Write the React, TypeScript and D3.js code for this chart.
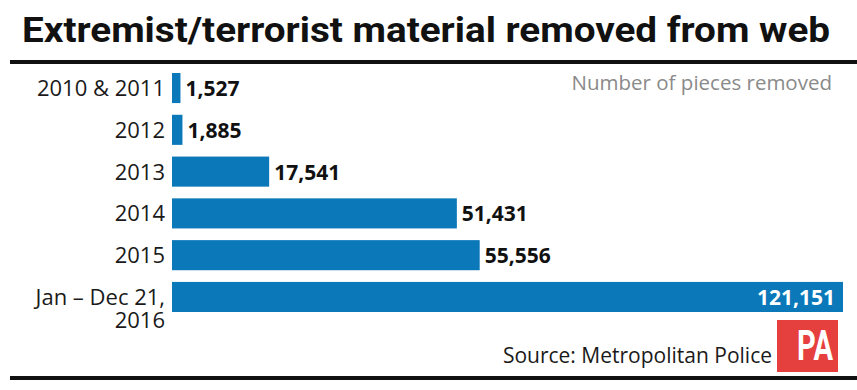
import React from "react";
import * as d3 from "d3";

const categories: string[][] = [
  ["2010 & 2011"],
  ["2012"],
  ["2013"],
  ["2014"],
  ["2015"],
  ["Jan – Dec 21,", "2016"],
];
const values: number[] = [1527, 1885, 17541, 51431, 55556, 121151];

const title = "Extremist/terrorist material removed from web";
const subtitle = "Number of pieces removed";
const source = "Source: Metropolitan Police";

const W = 857;
const H = 390;
const BLUE = "#0a78b9";
const FONT = "'Open Sans', 'Noto Sans', sans-serif";

export default function App() {
  const keys = categories.map((c) => c.join(" "));
  const maxV = d3.max(values) as number;
  const x = d3.scaleLinear().domain([0, maxV]).range([172, 843]);
  const y = d3.scaleBand<string>().domain(keys).range([73, 312]).paddingInner(0.28).paddingOuter(0);
  const fmt = d3.format(",");

  return (
    <svg
      width={W}
      height={H}
      style={{ position: "absolute", left: 0, top: 0, background: "#fff" }}
      xmlns="http://www.w3.org/2000/svg"
    >
      <rect x={0} y={0} width={W} height={H} fill="#fff" />
      <text
        x={22}
        y={42}
        fontFamily="Roboto, 'Open Sans', sans-serif"
        fontWeight={700}
        fontSize={35}
        fill="#111"
        textLength={808}
        lengthAdjust="spacingAndGlyphs"
      >
        {title}
      </text>
      <rect x={10} y={60} width={W - 10} height={4} fill="#111" />
      <text x={832} y={90} textAnchor="end" fontFamily={FONT} fontSize={20.5} fill="#8a8a8a">
        {subtitle}
      </text>
      {values.map((v, i) => {
        const k = keys[i];
        const y0 = y(k) as number;
        const bw = y.bandwidth();
        const cy = y0 + bw / 2;
        const lines = categories[i];
        const inside = v === maxV;
        return (
          <g key={k}>
            <rect x={x(0)} y={y0} width={x(v) - x(0)} height={bw} fill={BLUE} />
            {lines.map((l, j) => (
              <text
                key={j}
                x={165}
                y={cy + 8 + j * 23}
                textAnchor="end"
                fontFamily={FONT}
                fontSize={22}
                fill="#1a1a1a"
              >
                {l}
              </text>
            ))}
            <text
              x={inside ? x(v) - 8 : x(v) + 5}
              y={cy + 8}
              textAnchor={inside ? "end" : "start"}
              fontFamily={FONT}
              fontWeight={700}
              fontSize={21}
              fill={inside ? "#fff" : "#111"}
            >
              {fmt(v)}
            </text>
          </g>
        );
      })}
      <text x={772} y={363} textAnchor="end" fontFamily={FONT} fontSize={21} fill="#1a1a1a">
        {source}
      </text>
      <rect x={777} y={320} width={61} height={52} fill="#e5403e" />
      <text
        x={815}
        y={360}
        textAnchor="middle"
        fontFamily="Roboto, sans-serif"
        fontWeight={700}
        fontSize={42}
        fill="#fff"
        textLength={36}
        lengthAdjust="spacingAndGlyphs"
      >
        PA
      </text>
      <rect x={10} y={376} width={W - 10} height={4} fill="#111" />
    </svg>
  );
}
